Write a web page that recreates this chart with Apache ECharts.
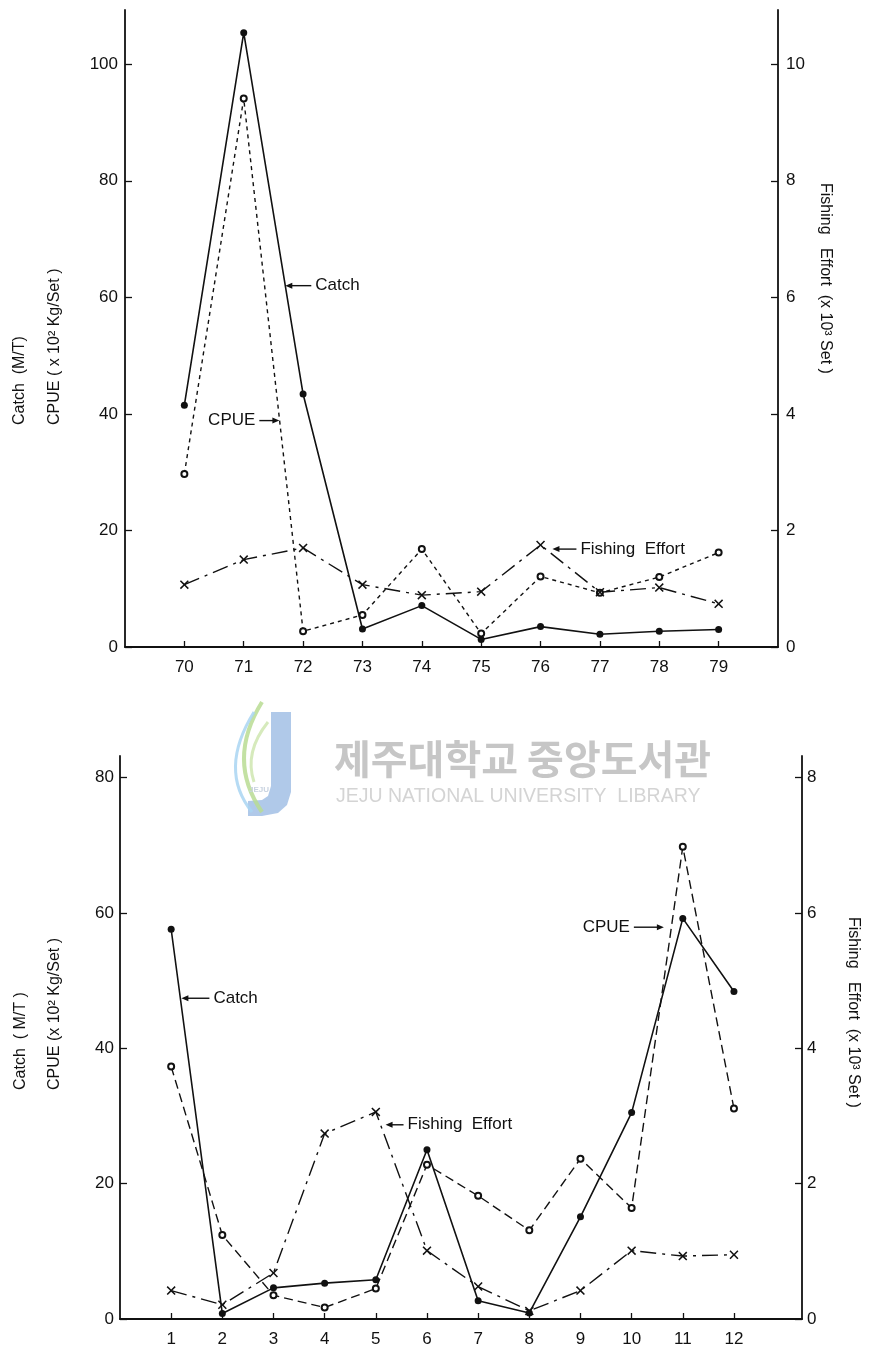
<!DOCTYPE html>
<html>
<head>
<meta charset="utf-8">
<script src="https://cdn.jsdelivr.net/npm/echarts@6/dist/echarts.min.js"></script>
<style>
  html, body { margin: 0; padding: 0; background: #fff; }
  #chart { width: 874px; height: 1352px; }
</style>
</head>
<body>
<div id="chart"></div>
<script>
// ---- Annual series (1970–1979) ----
const years = [70, 71, 72, 73, 74, 75, 76, 77, 78, 79];
const yearCatch = [41.5, 105.4, 43.4, 3.1, 7.1, 1.3, 3.5, 2.2, 2.7, 3.0];      // M/T
const yearCpue = [29.7, 94.1, 2.7, 5.5, 16.8, 2.3, 12.1, 9.3, 12.0, 16.2];     // x10^2 kg/set
const yearEffort = [1.07, 1.50, 1.70, 1.07, 0.89, 0.95, 1.75, 0.94, 1.02, 0.74]; // x10^3 set

// ---- Monthly series ----
const months = [1, 2, 3, 4, 5, 6, 7, 8, 9, 10, 11, 12];
const monthCatch = [57.6, 0.8, 4.6, 5.3, 5.8, 25.0, 2.7, 0.9, 15.1, 30.5, 59.2, 48.4];
const monthCpue = [37.3, 12.4, 3.5, 1.7, 4.5, 22.8, 18.2, 13.1, 23.7, 16.4, 69.8, 31.1];
const monthEffort = [0.42, 0.21, 0.68, 2.74, 3.06, 1.01, 0.48, 0.12, 0.42, 1.01, 0.93, 0.95];

// ---- Tick labels ----
const yearTicksLeft = [0, 20, 40, 60, 80, 100];
const yearTicksRight = [0, 2, 4, 6, 8, 10];
const monthTicksLeft = [0, 20, 40, 60, 80];
const monthTicksRight = [0, 2, 4, 6, 8];

const FONT = '"Liberation Sans", Arial, Helvetica, sans-serif';
const INK = '#111';
const X_MARK = 'path://M0,1.2 L1.2,0 L5,3.8 L8.8,0 L10,1.2 L6.2,5 L10,8.8 L8.8,10 L5,6.2 L1.2,10 L0,8.8 L3.8,5 Z';

const pairs = (xs, ys) => xs.map((x, i) => [x, ys[i]]);

function xAxis(gridIndex, min, max, ticks) {
  return {
    type: 'value', gridIndex, min, max,
    axisLine: { show: true, onZero: false, lineStyle: { color: INK, width: 1.8 } },
    axisTick: { show: true, inside: true, length: 6, customValues: ticks, lineStyle: { color: INK, width: 1.3 } },
    axisLabel: { customValues: ticks, margin: 12, color: INK, fontFamily: FONT, fontSize: 17 },
    splitLine: { show: false }
  };
}

function yAxis(gridIndex, position, max, ticks, margin) {
  return {
    type: 'value', gridIndex, position, min: 0, max,
    axisLine: { show: true, onZero: false, lineStyle: { color: INK, width: 1.8 } },
    axisTick: { show: true, inside: true, length: 7, customValues: ticks, lineStyle: { color: INK, width: 1.3 } },
    axisLabel: { customValues: ticks, margin, color: INK, fontFamily: FONT, fontSize: 17 },
    splitLine: { show: false }
  };
}

function catchSeries(xi, yi, data) {
  return {
    type: 'line', xAxisIndex: xi, yAxisIndex: yi, data, z: 4,
    symbol: 'circle', symbolSize: 7,
    itemStyle: { color: INK },
    lineStyle: { color: INK, width: 1.6, type: 'solid' }
  };
}
function cpueSeries(xi, yi, data, dash) {
  return {
    type: 'line', xAxisIndex: xi, yAxisIndex: yi, data, z: 3,
    symbol: 'emptyCircle', symbolSize: 6,
    itemStyle: { color: INK, borderColor: INK, borderWidth: 1.4 },
    lineStyle: { color: INK, width: 1.4, type: dash }
  };
}
function effortSeries(xi, yi, data) {
  return {
    type: 'line', xAxisIndex: xi, yAxisIndex: yi, data, z: 3,
    symbol: X_MARK, symbolSize: 9,
    itemStyle: { color: INK },
    lineStyle: { color: INK, width: 1.4, type: [16, 6, 3, 6] }
  };
}

// Library watermark drawn behind the lower panel
const watermark = [
  { type: 'polygon', z: 0, silent: true,
    shape: { points: [[271, 712], [291, 712], [291, 792], [287, 805], [278, 813], [262, 816], [248, 816],
                      [248, 801], [262, 800], [268, 796], [271, 786]] },
    style: { fill: '#9cbbe3', opacity: 0.8 } },
  { type: 'bezierCurve', z: 0, silent: true,
    shape: { x1: 262, y1: 702, cpx1: 226, cpy1: 760, x2: 262, y2: 812 },
    style: { fill: null, stroke: '#b9dc93', lineWidth: 4, opacity: 0.85 } },
  { type: 'bezierCurve', z: 0, silent: true,
    shape: { x1: 254, y1: 712, cpx1: 218, cpy1: 770, x2: 252, y2: 812 },
    style: { fill: null, stroke: '#a9d5f2', lineWidth: 3, opacity: 0.85 } },
  { type: 'bezierCurve', z: 0, silent: true,
    shape: { x1: 268, y1: 722, cpx1: 244, cpy1: 752, x2: 254, y2: 782 },
    style: { fill: null, stroke: '#cfe6b0', lineWidth: 3, opacity: 0.85 } },
  { type: 'text', z: 0, silent: true, x: 259, y: 790,
    style: { text: 'JEJU', fill: '#c9d3e0', font: 'bold 8px ' + FONT, align: 'center', verticalAlign: 'middle' } },
  { type: 'text', z: 0, silent: true, x: 334, y: 759,
    style: { text: '제주대학교 중앙도서관', fill: '#c6c6c6', font: 'bold 40px "Noto Sans CJK KR"', verticalAlign: 'middle' } },
  { type: 'text', z: 0, silent: true, x: 336, y: 797,
    style: { text: 'JEJU NATIONAL UNIVERSITY  LIBRARY', fill: '#d4d4d4', font: '19.5px ' + FONT, verticalAlign: 'middle' } }
];

// Rotated axis titles
function vtitle(x, y, text, down) {
  return {
    type: 'text', x, y, rotation: down ? -Math.PI / 2 : Math.PI / 2, silent: true, z: 5,
    style: { text, fill: INK, font: '16px ' + FONT, align: 'left', verticalAlign: 'middle' }
  };
}
const titles = [
  vtitle(20, 425, 'Catch  (M/T)', false),
  vtitle(55, 425, 'CPUE ( x 10² Kg/Set )', false),
  vtitle(825, 183, 'Fishing   Effort  (x 10³ Set )', true),
  vtitle(21, 1090, 'Catch  ( M/T )', false),
  vtitle(55, 1090, 'CPUE (x 10² Kg/Set )', false),
  vtitle(853, 917, 'Fishing   Effort  (x 10³ Set )', true)
];

const chart = echarts.init(document.getElementById('chart'), null, { renderer: 'canvas' });

chart.setOption({
  animation: false,
  backgroundColor: '#fff',
  grid: [
    { left: 125, top: 10, width: 653, height: 637 },
    { left: 120, top: 756, width: 682, height: 563 }
  ],
  xAxis: [
    xAxis(0, 69, 80, years),
    xAxis(1, 0, 13.33, months)
  ],
  yAxis: [
    yAxis(0, 'left', 109.3, yearTicksLeft, 7),
    yAxis(0, 'right', 10.93, yearTicksRight, 8),
    yAxis(1, 'left', 83.2, monthTicksLeft, 6),
    yAxis(1, 'right', 8.32, monthTicksRight, 5)
  ],
  series: [
    catchSeries(0, 0, pairs(years, yearCatch)),
    cpueSeries(0, 0, pairs(years, yearCpue), [4, 4]),
    effortSeries(0, 1, pairs(years, yearEffort)),
    catchSeries(1, 2, pairs(months, monthCatch)),
    cpueSeries(1, 2, pairs(months, monthCpue), [9, 5]),
    effortSeries(1, 3, pairs(months, monthEffort))
  ],
  graphic: watermark.concat(titles)
});

// Arrow call-outs, anchored in data space of each panel (left-axis units)
const notes = [
  { grid: 0, at: [71.7, 62.0], text: 'Catch', side: 'right', len: 26 },
  { grid: 0, at: [71.6, 38.85], text: 'CPUE', side: 'left', len: 20 },
  { grid: 0, at: [76.2, 16.8], text: 'Fishing  Effort', side: 'right', len: 24 },
  { grid: 1, at: [1.2, 47.4], text: 'Catch', side: 'right', len: 28 },
  { grid: 1, at: [5.19, 28.7], text: 'Fishing  Effort', side: 'right', len: 18 },
  { grid: 1, at: [10.63, 57.9], text: 'CPUE', side: 'left', len: 30 }
];

const callouts = [];
notes.forEach(n => {
  const p = chart.convertToPixel({ xAxisIndex: n.grid, yAxisIndex: n.grid * 2 }, n.at);
  const dir = n.side === 'right' ? 1 : -1;     // which side the text sits on
  const tail = p[0] + dir * n.len;
  callouts.push({
    type: 'line', silent: true, z: 6,
    shape: { x1: tail, y1: p[1], x2: p[0] + dir * 5, y2: p[1] },
    style: { stroke: INK, lineWidth: 1.4 }
  });
  callouts.push({
    type: 'polygon', silent: true, z: 6,
    shape: { points: [[p[0], p[1]], [p[0] + dir * 7, p[1] - 3], [p[0] + dir * 7, p[1] + 3]] },
    style: { fill: INK }
  });
  callouts.push({
    type: 'text', silent: true, z: 6,
    x: tail + dir * 4, y: p[1],
    style: { text: n.text, fill: INK, font: '17px ' + FONT,
             align: n.side === 'right' ? 'left' : 'right', verticalAlign: 'middle' }
  });
});

chart.setOption({ graphic: watermark.concat(titles, callouts) });
</script>
</body>
</html>
